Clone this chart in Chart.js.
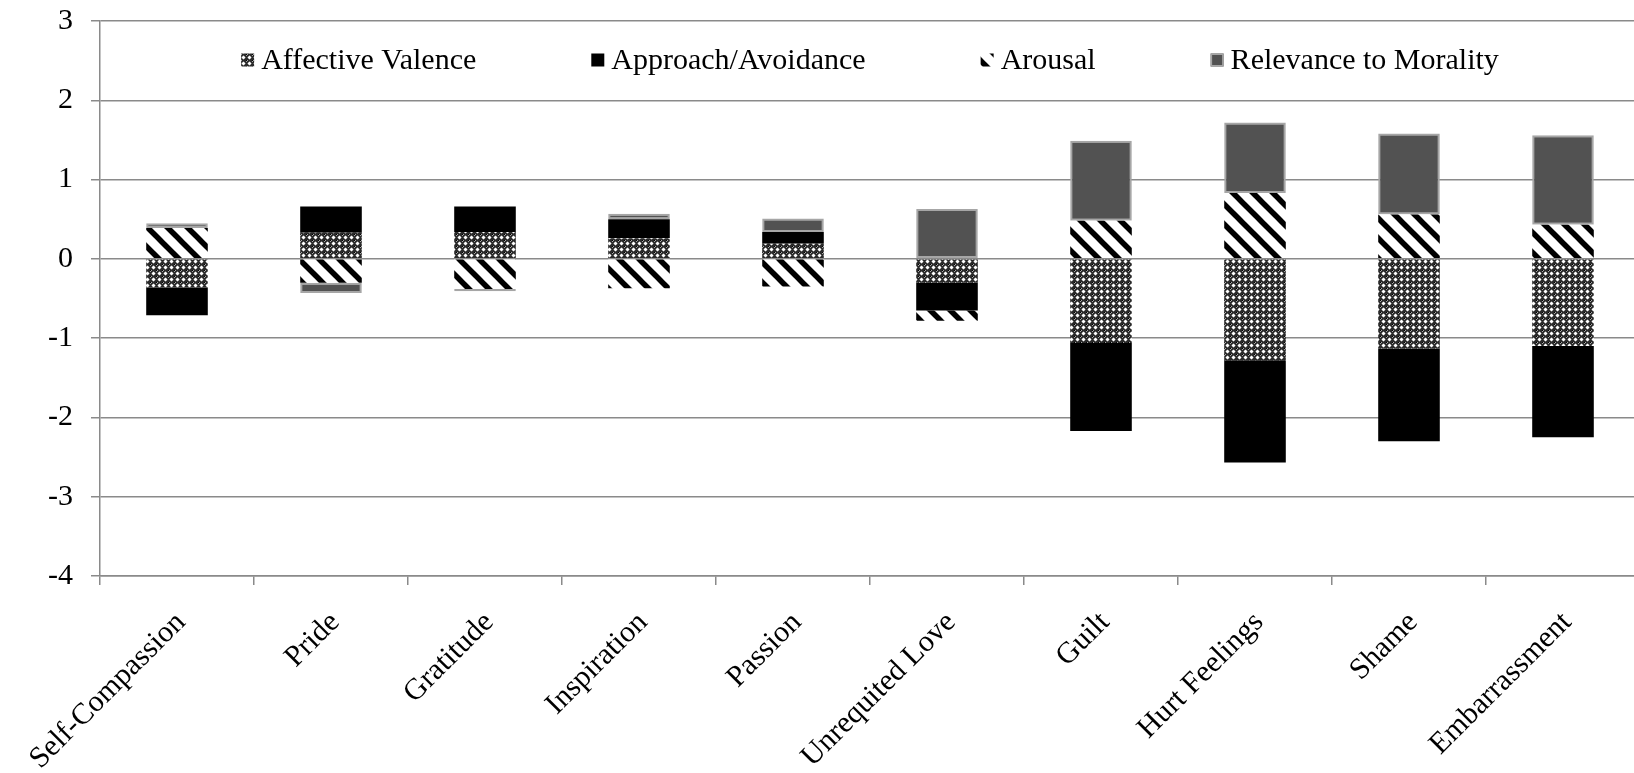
<!DOCTYPE html>
<html lang="en">
<head>
  <meta charset="UTF-8">
  <title>Emotion dimensions</title>
  <script src="https://cdn.jsdelivr.net/npm/chart.js"></script>
  <style>
    html, body { margin: 0; padding: 0; background: #fff; overflow: hidden; }
    #wrap { width: 1642px; height: 773px; }
  </style>
</head>
<body>
  <div id="wrap"><canvas id="dimChart"></canvas></div>

  <script>
    // data
    const categories = ['Self-Compassion', 'Pride', 'Gratitude', 'Inspiration', 'Passion',
      'Unrequited Love', 'Guilt', 'Hurt Feelings', 'Shame', 'Embarrassment'];
    const seriesNames = ['Affective Valence', 'Approach/Avoidance', 'Arousal', 'Relevance to Morality'];
    const valence  = [-0.36, 0.33, 0.34, 0.26, 0.19, -0.30, -1.06, -1.28, -1.13, -1.10];
    const approach = [-0.35, 0.33, 0.32, 0.24, 0.15, -0.35, -1.11, -1.29, -1.17, -1.15];
    const arousal  = [0.39, -0.30, -0.38, -0.37, -0.35, -0.13, 0.48, 0.83, 0.56, 0.43];
    const morality = [0.06, -0.13, -0.03, 0.07, 0.17, 0.63, 1.01, 0.89, 1.02, 1.13];
    const yMin = -4, yMax = 3, yStep = 1;

    const FONT = '"Liberation Serif", "Times New Roman", serif';
    const FONT_SIZE = 30;
    const GRID = '#8a8a8a';

    const ctx = document.getElementById('dimChart').getContext('2d');

    // grid of small white stars on a dark mesh
    function crossPattern() {
      const c = document.createElement('canvas');
      c.width = 6; c.height = 6;
      const g = c.getContext('2d');
      g.fillStyle = '#2b2b2b';
      g.fillRect(0, 0, 6, 6);
      g.fillStyle = '#000';
      g.fillRect(0, 0, 1, 1);
      g.fillStyle = '#a8a8a8';
      g.fillRect(2, 2, 3, 3);
      g.fillRect(1, 0, 1, 1);
      g.fillRect(0, 1, 1, 1);
      g.fillStyle = '#fff';
      g.fillRect(3, 1, 1, 5);
      g.fillRect(1, 3, 5, 1);
      g.fillStyle = '#6a6a6a';
      g.fillRect(3, 1, 1, 1);
      g.fillRect(3, 5, 1, 1);
      g.fillRect(1, 3, 1, 1);
      g.fillRect(5, 3, 1, 1);
      return ctx.createPattern(c, 'repeat');
    }

    // wide "\" stripes
    function stripePattern() {
      const s = 20;
      const c = document.createElement('canvas');
      c.width = s; c.height = s;
      const g = c.getContext('2d');
      g.fillStyle = '#fff';
      g.fillRect(0, 0, s, s);
      g.strokeStyle = '#000';
      g.lineWidth = 5.5;
      [-s, 0, s].forEach(k => {
        g.beginPath();
        g.moveTo(k - 2, -2);
        g.lineTo(k + s + 2, s + 2);
        g.stroke();
      });
      return ctx.createPattern(c, 'repeat');
    }

    const fills = [crossPattern(), '#000000', stripePattern(), '#525252'];
    const borders = [null, null, null, '#a6a6a6'];
    const values = [valence, approach, arousal, morality];

    // legend sits inside the plot, like the original
    const overlayLegend = {
      id: 'overlayLegend',
      afterDraw(chart) {
        const c = chart.ctx;
        const area = chart.chartArea;
        const box = 13, gapText = 7, gapItem = 115;
        c.save();
        c.font = FONT_SIZE + 'px ' + FONT;
        c.textBaseline = 'middle';
        const items = chart.data.datasets;
        const widths = items.map(ds => box + gapText + c.measureText(ds.label).width);
        const total = widths.reduce((a, b) => a + b, 0) + gapItem * (items.length - 1);
        let x = (area.left + area.right) / 2 - total / 2;
        const y = area.top + 39;
        items.forEach((ds, i) => {
          c.fillStyle = ds.backgroundColor;
          c.fillRect(x, y - box / 2, box, box);
          if (ds.borderWidth) {
            c.strokeStyle = ds.borderColor;
            c.lineWidth = 1.5;
            c.strokeRect(x + 0.75, y - box / 2 + 0.75, box - 1.5, box - 1.5);
          }
          c.fillStyle = '#000';
          c.fillText(ds.label, x + box + gapText, y + 1);
          x += widths[i] + gapItem;
        });
        c.restore();
      }
    };

    new Chart(ctx, {
      type: 'bar',
      data: {
        labels: categories,
        datasets: seriesNames.map((name, i) => ({
          label: name,
          data: values[i],
          backgroundColor: fills[i],
          borderColor: borders[i] || fills[i],
          borderWidth: borders[i] ? 2 : 0,
          borderSkipped: false,
          categoryPercentage: 1,
          barPercentage: 0.4
        }))
      },
      options: {
        responsive: true,
        maintainAspectRatio: false,
        animation: false,
        layout: { padding: { top: 21, right: 2, left: 0, bottom: 0 } },
        plugins: {
          legend: { display: false },
          tooltip: { enabled: false }
        },
        scales: {
          x: {
            stacked: true,
            offset: true,
            grid: {
              offset: true,
              drawOnChartArea: false,
              drawTicks: true,
              tickLength: 9,
              color: GRID,
              lineWidth: 1.5
            },
            border: { display: true, color: GRID, width: 1.5 },
            ticks: {
              color: '#000',
              font: { family: FONT, size: FONT_SIZE },
              minRotation: 45,
              maxRotation: 45,
              autoSkip: false,
              padding: 20,
              labelOffset: 4
            },
            afterFit(scale) { scale.height = 197; }
          },
          y: {
            stacked: true,
            min: yMin,
            max: yMax,
            ticks: {
              stepSize: yStep,
              color: '#000',
              // small lineHeight keeps the label overhang from pushing the plot down
              font: { family: FONT, size: FONT_SIZE, lineHeight: 0.2 },
              padding: 18
            },
            grid: {
              color: GRID,
              lineWidth: 1.5,
              drawTicks: true,
              tickLength: 9
            },
            border: { display: true, color: GRID, width: 1.5 },
            afterFit(scale) { scale.width = 100; }
          }
        }
      },
      plugins: [overlayLegend]
    });
  </script>
</body>
</html>
